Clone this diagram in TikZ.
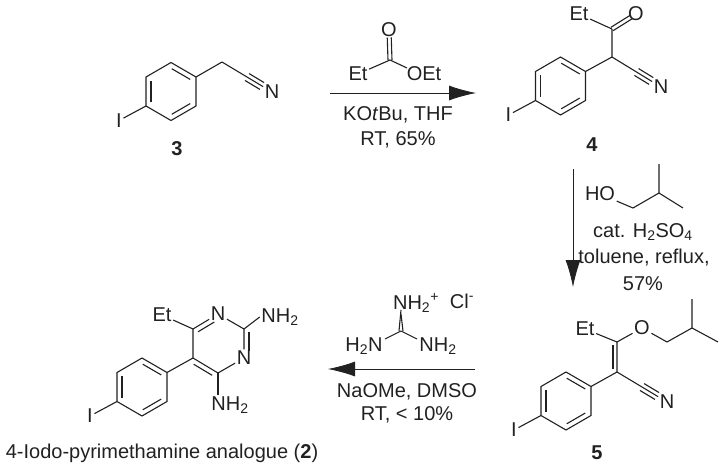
\documentclass[tikz,border=0pt]{standalone}
\usepackage{fontspec}
\setmainfont{Liberation Sans}
\usetikzlibrary{arrows.meta,calc}
\definecolor{ink}{gray}{0.13}
\tikzset{
  bond/.style={draw=ink,line width=1.1pt},
  rxnarrow/.style={draw=ink,line width=0.8pt,-{Latex[length=27pt,width=15pt]}},
  chem/.style={inner sep=1.5pt,text=ink,font=\fontsize{20}{24}\selectfont},
  cmpd/.style={chem,font=\fontsize{20}{24}\selectfont\bfseries}
}
% second line of a multiple bond, on the left of a->b
\newcommand{\sidebond}[5]{\draw[bond] ($(#1)!#4!(#2)!#3!90:(#2)$) -- ($(#1)!#5!(#2)!#3!90:(#2)$);}
% iodophenyl ring around centre #2,#3
\newcommand{\iodoring}[3]{
  \coordinate (#1t) at (#2,#3-29);
  \coordinate (#1ur) at (#2+25,#3-14.5);
  \coordinate (#1lr) at (#2+25,#3+14.5);
  \coordinate (#1b) at (#2,#3+29);
  \coordinate (#1ll) at (#2-25,#3+14.5);
  \coordinate (#1ul) at (#2-25,#3-14.5);
  \node[chem] (#1i) at (#2-52,#3+29) {I};
  \draw[bond] (#1t) -- (#1ur) -- (#1lr) -- (#1b) -- (#1ll) -- (#1ul) -- cycle;
  \draw[bond] (#1ll) -- (#1i);
  \sidebond{#1ur}{#1t}{5pt}{0.13}{0.87}
  \sidebond{#1b}{#1lr}{5pt}{0.13}{0.87}
  \sidebond{#1ll}{#1ul}{-5pt}{0.13}{0.87}
}
\newcommand{\triplebond}[2]{
  \draw[bond] (#1) -- (#2);
  \sidebond{#1}{#2}{4pt}{0.5}{0.8}
  \sidebond{#1}{#2}{-4pt}{0.5}{0.8}
}
\begin{document}
\begin{tikzpicture}[x=1pt,y=-1pt]
  \useasboundingbox (0,0) rectangle (723,471);

  % compound 3
  \iodoring{a}{171}{91.5}
  \coordinate (ach) at (222,62);
  \node[chem] (an) at (272,92) {N};
  \node[cmpd] (alabel) at (177,149) {3};
  \draw[bond] (aur) -- (ach);
  \triplebond{ach}{an}

  % ethyl propionate and first arrow
  \coordinate (ec) at (390,60);
  \coordinate (eoend) at (407,68);
  \node[chem] (eo) at (389,30) {O};
  \node[chem] (eet) at (358,74) {Et};
  \node[chem] (eoet) at (424,74) {OEt};
  \draw[bond] (ec) -- (eet);
  \draw[bond] (ec) -- (eoend);
  \sidebond{ec}{eo}{2pt}{0}{0.75}
  \sidebond{ec}{eo}{-2pt}{0}{0.75}
  \coordinate (afrom) at (330,93);
  \coordinate (ato) at (476,93);
  \draw[rxnarrow] (afrom) -- (ato);
  \node[chem] (akotbu) at (398,115) {KO\textit{t}Bu, THF};
  \node[chem] (art) at (398,140) {RT, 65\%};

  % compound 4
  \iodoring{b}{560.5}{86}
  \coordinate (bch) at (612,57);
  \coordinate (bco) at (612,29);
  \node[chem] (bo) at (636,14) {O};
  \node[chem] (bet) at (579,14) {Et};
  \node[chem] (bn) at (661,87) {N};
  \node[cmpd] (blabel) at (592,145) {4};
  \draw[bond] (bur) -- (bch) -- (bco);
  \draw[bond] (bco) -- (bet);
  \sidebond{bco}{bo}{2pt}{0}{0.8}
  \sidebond{bco}{bo}{-2pt}{0}{0.8}
  \triplebond{bch}{bn}

  % isobutanol and second arrow
  \node[chem] (iho) at (600,194) {HO};
  \coordinate (ich) at (633,208);
  \coordinate (icm) at (659,193);
  \coordinate (ime) at (659,164);
  \coordinate (imf) at (683,208);
  \draw[bond] (iho) -- (ich) -- (icm) -- (ime);
  \draw[bond] (icm) -- (imf);
  \node[chem] (icat) at (643,232) {cat. H\textsubscript{2}SO\textsubscript{4}};
  \node[chem] (itol) at (644,258) {toluene, reflux,};
  \node[chem] (iyld) at (643,284) {57\%};
  \coordinate (bfrom) at (573,169);
  \coordinate (bto) at (573,287);
  \draw[rxnarrow] (bfrom) -- (bto);

  % compound 5
  \iodoring{c}{566}{401}
  \coordinate (cca) at (617,372);
  \coordinate (ccb) at (617,342);
  \node[chem] (cet) at (585,329) {Et};
  \node[chem] (co) at (642,328) {O};
  \coordinate (cch) at (667,342);
  \coordinate (ccm) at (692,328);
  \coordinate (cme) at (692,299);
  \coordinate (cmf) at (718,342);
  \node[chem] (cn) at (667,402) {N};
  \node[cmpd] (clabel) at (597,453) {5};
  \draw[bond] (cur) -- (cca) -- (ccb);
  \sidebond{cca}{ccb}{4pt}{0.1}{0.9}
  \draw[bond] (ccb) -- (cet);
  \draw[bond] (ccb) -- (co) -- (cch) -- (ccm) -- (cme);
  \draw[bond] (ccm) -- (cmf);
  \triplebond{cca}{cn}

  % guanidinium and third arrow
  \coordinate (gc) at (401,331);
  \coordinate (gleftend) at (385,339);
  \coordinate (grightend) at (417,339);
  \node[chem] (gnh) at (416,303) {NH\textsubscript{2}\textsuperscript{+}};
  \node[chem] (gcl) at (462,301) {Cl\textsuperscript{-}};
  \node[chem] (gleft) at (364,346) {H\textsubscript{2}N};
  \node[chem] (gright) at (438,346) {NH\textsubscript{2}};
  \draw[bond] (gc) -- (gleftend);
  \draw[bond] (gc) -- (grightend);
  \coordinate (gtop) at (401,312);
  \sidebond{gc}{gtop}{2pt}{0}{1}
  \sidebond{gc}{gtop}{-2pt}{0}{1}
  \coordinate (cfrom) at (475,369);
  \coordinate (cto) at (328,369);
  \draw[rxnarrow] (cfrom) -- (cto);
  \node[chem] (gnaome) at (407,392) {NaOMe, DMSO};
  \node[chem] (grt) at (407,415) {RT, < 10\%};

  % compound 2
  \iodoring{d}{142}{387}
  \coordinate (dc5) at (193,358);
  \coordinate (dc6) at (193,329);
  \node[chem] (dn1) at (218,314) {N};
  \coordinate (dc2) at (244,329);
  \node[chem] (dn3) at (244,358) {N};
  \coordinate (dc4) at (218,373);
  \node[chem] (det) at (162,315) {Et};
  \node[chem] (dnh2a) at (280,317) {NH\textsubscript{2}};
  \node[chem] (dnh2b) at (230,405) {NH\textsubscript{2}};
  \draw[bond] (dur) -- (dc5) -- (dc6) -- (dn1) -- (dc2) -- (dn3) -- (dc4) -- (dc5);
  \draw[bond] (dc6) -- (det);
  \draw[bond] (dc2) -- (dnh2a.west);
  \draw[bond] (dc4) -- (dc4 |- dnh2b.north);
  \sidebond{dc6}{dn1}{-5pt}{0.1}{0.75}
  \sidebond{dc2}{dn3}{5pt}{0.1}{0.75}
  \sidebond{dc4}{dc5}{5pt}{0.13}{0.87}
  \node[chem] (dlabel) at (162,453) {4-Iodo-pyrimethamine analogue (\textbf{2})};
\end{tikzpicture}
\end{document}
